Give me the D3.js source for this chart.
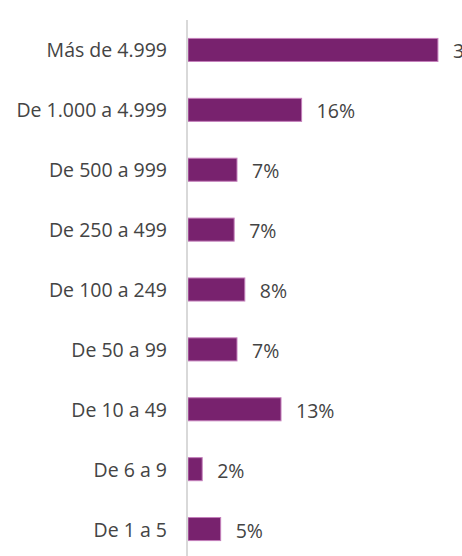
<!DOCTYPE html>
<html>
<head>
<meta charset="utf-8">
<script src="https://cdn.jsdelivr.net/npm/d3@7"></script>
<style>
  html, body { margin: 0; padding: 0; background: #fff; }
  svg { display: block; }
  text { font-family: "Open Sans", sans-serif; fill: #444; }
</style>
</head>
<body>
<svg id="chart"></svg>
<script>
// categories top to bottom
var categories = ["Más de 4.999", "De 1.000 a 4.999", "De 500 a 999", "De 250 a 499",
                  "De 100 a 249", "De 50 a 99", "De 10 a 49", "De 6 a 9", "De 1 a 5"];
// share of companies, %
var values = [35.2, 16, 6.9, 6.5, 8, 6.9, 13.1, 2, 4.6];
var valueLabels = ["35%", "16%", "7%", "7%", "8%", "7%", "13%", "2%", "5%"];

var width = 462, height = 556;
var left = 188;

var svg = d3.select("#chart")
    .attr("width", width)
    .attr("height", height);

var x = d3.scaleLinear()
    .domain([0, 40])
    .range([left, left + 284]);

var y = d3.scaleBand()
    .domain(categories)
    .range([20, 559])
    .paddingInner(0.615)
    .paddingOuter(0.3075);

// bars
svg.selectAll("rect.bar")
    .data(values)
    .enter().append("rect")
    .attr("class", "bar")
    .attr("x", x(0))
    .attr("y", function(d, i) { return y(categories[i]); })
    .attr("width", function(d) { return x(d) - x(0); })
    .attr("height", y.bandwidth())
    .attr("fill", "#78226e")
    .attr("stroke", "#c47fbb")
    .attr("stroke-width", 1);

// axis line
svg.append("line")
    .attr("x1", left - 1).attr("x2", left - 1)
    .attr("y1", 20).attr("y2", height)
    .attr("stroke", "#d9d9d9")
    .attr("stroke-width", 2);

// category labels
svg.selectAll("text.cat")
    .data(categories)
    .enter().append("text")
    .attr("class", "cat")
    .attr("x", 167)
    .attr("y", function(d) { return y(d) + y.bandwidth() / 2; })
    .attr("text-anchor", "end")
    .attr("dominant-baseline", "central")
    .attr("font-size", 19.5)
    .text(function(d) { return d; });

// value labels
svg.selectAll("text.val")
    .data(values)
    .enter().append("text")
    .attr("class", "val")
    .attr("x", function(d) { return x(d) + 15; })
    .attr("y", function(d, i) { return y(categories[i]) + y.bandwidth() / 2 + 1; })
    .attr("dominant-baseline", "central")
    .attr("font-size", 19.5)
    .text(function(d, i) { return valueLabels[i]; });
</script>
</body>
</html>
